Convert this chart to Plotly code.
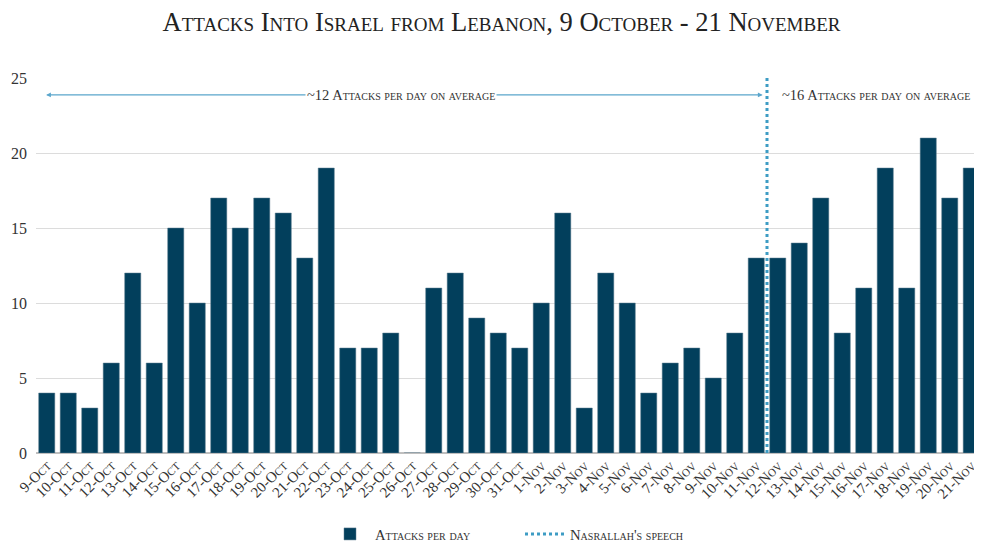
import plotly.graph_objects as go

dates = ["9-Oct","10-Oct","11-Oct","12-Oct","13-Oct","14-Oct","15-Oct","16-Oct","17-Oct","18-Oct",
         "19-Oct","20-Oct","21-Oct","22-Oct","23-Oct","24-Oct","25-Oct","26-Oct","27-Oct","28-Oct",
         "29-Oct","30-Oct","31-Oct","1-Nov","2-Nov","3-Nov","4-Nov","5-Nov","6-Nov","7-Nov",
         "8-Nov","9-Nov","10-Nov","11-Nov","12-Nov","13-Nov","14-Nov","15-Nov","16-Nov","17-Nov",
         "18-Nov","19-Nov","20-Nov","21-Nov"]
attacks = [4,4,3,6,12,6,15,10,17,15,17,16,13,19,7,7,8,0,11,12,
           9,8,7,10,16,3,12,10,4,6,7,5,8,13,13,14,17,8,11,19,
           11,21,17,19]
speech_pos = 33.5  # between 11-Nov and 12-Nov
yticks = [0, 5, 10, 15, 20, 25]

FONT = "Liberation Serif"
idx = list(range(len(dates)))

fig = go.Figure()
fig.add_trace(go.Bar(x=idx, y=attacks, name="Attacks per day",
                     marker=dict(color="#023f5c", line=dict(color="#5f7f90", width=0.5))))
fig.add_trace(go.Scatter(x=[speech_pos, speech_pos], y=[0, 25], mode="lines",
                         name="Nasrallah's speech",
                         line=dict(color="#3d9cc4", width=3, dash="dot")))

fig.add_annotation(x=33.3, y=23.87, ax=-0.1, ay=23.87, xref="x", yref="y", axref="x", ayref="y",
                   text="", showarrow=True, arrowhead=2, startarrowhead=2, arrowside="end+start",
                   arrowsize=0.8, arrowwidth=1.2, arrowcolor="#5ba6cc")
fig.add_annotation(x=16.48, y=23.87, xref="x", yref="y", showarrow=False,
                   text="~12 Attacks per day on average", bgcolor="white",
                   font=dict(family=FONT, size=14.5, color="#333", variant="small-caps"))
fig.add_annotation(x=34.1, y=23.87, xref="x", yref="y", showarrow=False, xanchor="left",
                   text="~16 Attacks per day on average",
                   font=dict(family=FONT, size=14.5, color="#333", variant="small-caps"))

fig.update_layout(
    width=974, height=536,
    margin=dict(l=28, r=0, t=70, b=91, autoexpand=False),
    paper_bgcolor="white", plot_bgcolor="white",
    title=dict(text="Attacks Into Israel from Lebanon, 9 October - 21 November",
               x=0.5067, xanchor="center", y=0.974, yanchor="middle",
               font=dict(family=FONT, size=26.5, color="#222", variant="small-caps")),
    bargap=0.25,
    showlegend=True,
    legend=dict(orientation="h", x=0.3055, xanchor="left", y=-0.173, yanchor="top",
                font=dict(family=FONT, size=14.7, color="#333", variant="small-caps"),
                traceorder="normal", itemwidth=40, entrywidth=140, entrywidthmode="pixels"),
    xaxis=dict(range=[-0.5, 43.5], tickmode="array", tickvals=idx, ticktext=dates,
               tickangle=-45, showgrid=False, zeroline=False, showline=False,
               automargin=False,
               tickfont=dict(family=FONT, size=15, color="#333", variant="small-caps")),
    yaxis=dict(range=[0, 25], tickmode="array", tickvals=yticks, showgrid=True,
               gridcolor="#dcdcdc", zeroline=True, zerolinecolor="#bfbfbf", zerolinewidth=1.5,
               ticks="", ticklabelstandoff=8, automargin=False,
               tickfont=dict(family=FONT, size=16, color="#333")),
)

fig.write_html("out.html")
